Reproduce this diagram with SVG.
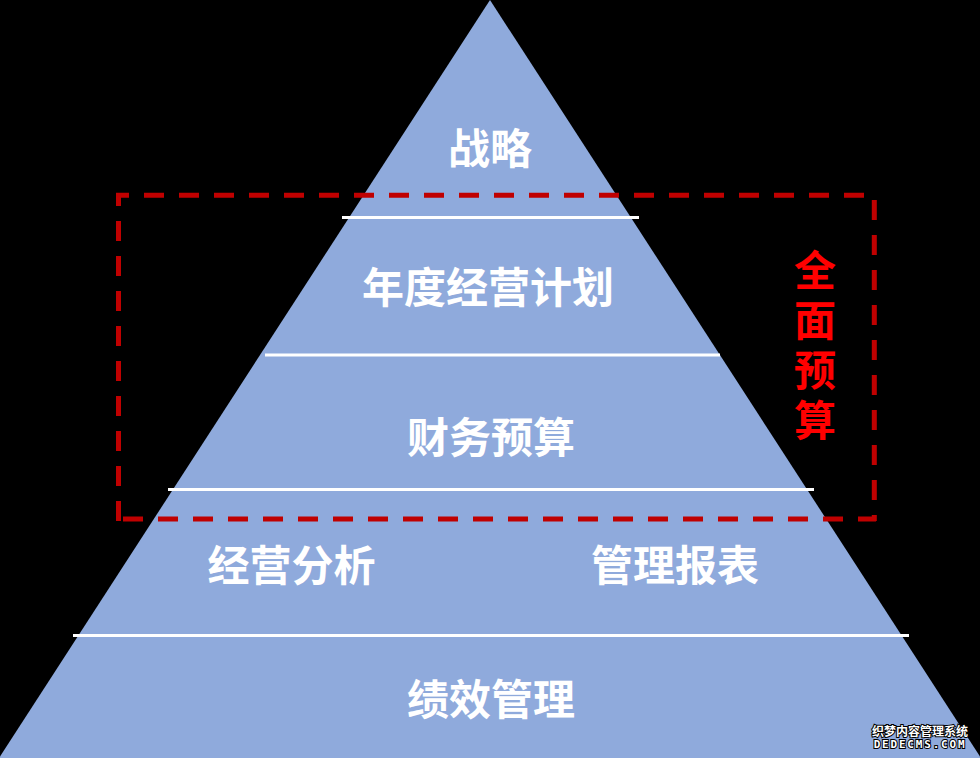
<svg xmlns="http://www.w3.org/2000/svg" width="980" height="758" viewBox="0 0 980 758">
<style>
.lbl{font-family:"Microsoft YaHei","Noto Sans CJK SC","Noto Sans",sans-serif;font-weight:bold;font-size:42px;fill:#FFFFFF;text-anchor:middle}
.red{font-family:"Microsoft YaHei","Noto Sans CJK SC","Noto Sans",sans-serif;font-weight:bold;font-size:42px;fill:#FF0000;writing-mode:vertical-rl;letter-spacing:8px}
.sep{stroke:#FFFFFF;stroke-width:3;fill:none}
.dash{stroke:#C00000;stroke-width:5;stroke-dasharray:20 15;fill:none}
.wm{font-family:"Noto Sans CJK SC","DejaVu Sans",sans-serif;font-weight:bold;font-size:12px;fill:#FFFFFF;stroke:#000000;stroke-width:2;paint-order:stroke}
</style>
<rect x="0" y="0" width="980" height="758" fill="#000000"/>
<g id="pyramid">
<polygon points="490,0 -1,758 981,758" fill="#8FAADC"/>
</g>
<g id="connectors">
<line class="sep" x1="342" y1="217.5" x2="639" y2="217.5"/>
<line class="sep" x1="265" y1="355" x2="720" y2="355"/>
<line class="sep" x1="168" y1="489.5" x2="814" y2="489.5"/>
<line class="sep" x1="73" y1="635.5" x2="909" y2="635.5"/>
</g>
<g id="budget-box">
<line class="dash" x1="116" y1="195.3" x2="876" y2="195.3" stroke-dashoffset="7"/>
<line class="dash" x1="118.5" y1="193" x2="118.5" y2="521" stroke-dashoffset="7"/>
<line class="dash" x1="874.3" y1="193" x2="874.3" y2="521" stroke-dashoffset="28"/>
<line class="dash" x1="116" y1="519" x2="876" y2="519" stroke-dashoffset="28"/>
</g>
<g id="node-strategy"><text class="lbl" x="490" y="164">战略</text></g>
<g id="node-annual-plan"><text class="lbl" x="488" y="303">年度经营计划</text></g>
<g id="node-financial-budget"><text class="lbl" x="491" y="453">财务预算</text></g>
<g id="node-analysis"><text class="lbl" x="291.5" y="581">经营分析</text></g>
<g id="node-reports"><text class="lbl" x="675" y="581">管理报表</text></g>
<g id="node-performance"><text class="lbl" x="491" y="715">绩效管理</text></g>
<g id="node-full-budget">
<text class="red" x="815" y="249">全面预算</text>
</g>
<g id="watermark">
<text class="wm" x="920" y="736" text-anchor="middle">织梦内容管理系统</text>
<text class="wm" x="920" y="748" text-anchor="middle" style="font-size:11px;letter-spacing:1.8px;font-family:'DejaVu Sans Mono',monospace">DEDECMS.COM</text>
</g>
</svg>
